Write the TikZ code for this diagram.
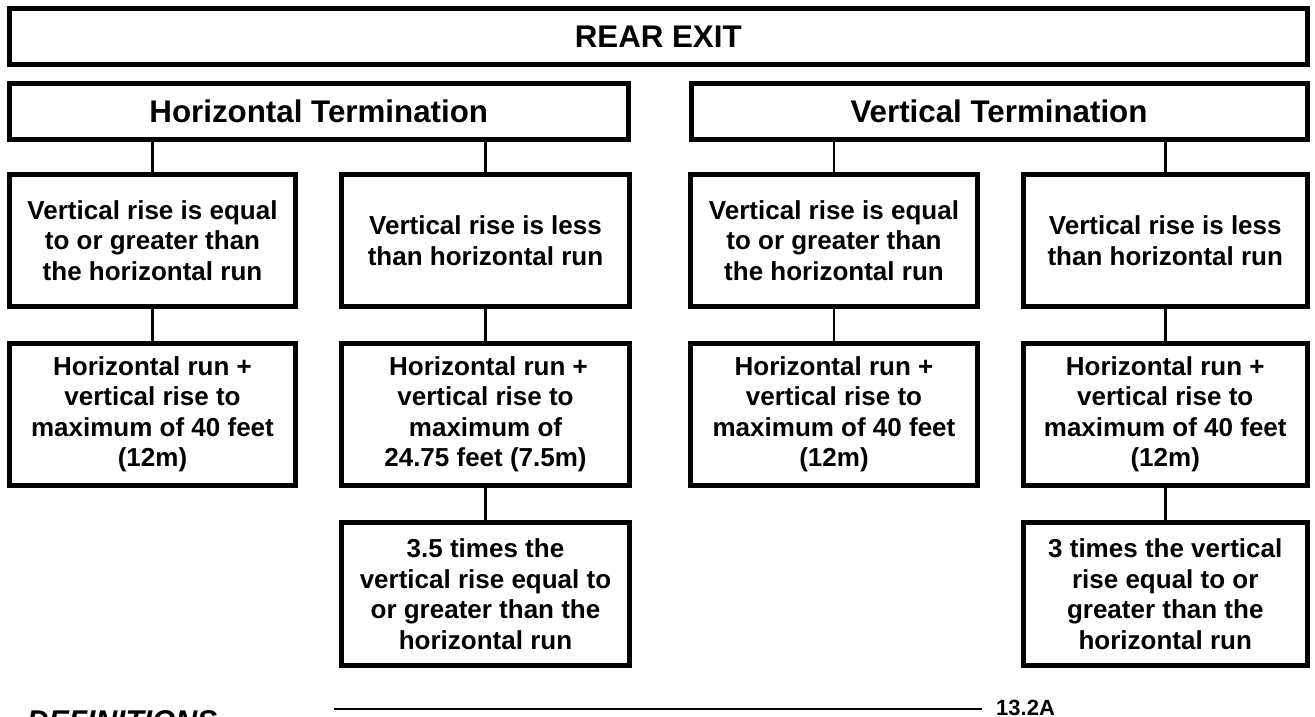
\documentclass[tikz,border=0pt]{standalone}
\usepackage{fontspec}
\setmainfont{Liberation Sans}
\newcommand\boxtxt{\fontsize{26}{30.5}\selectfont\bfseries}
\newcommand\headtxt{\fontsize{31.3}{36}\selectfont\bfseries}
\tikzset{
  panel/.style={draw=black, line width=5pt, inner sep=0pt, outer sep=0pt,
                align=center, font=\boxtxt},
  header/.style={panel, font=\headtxt, minimum height=56pt},
  link/.style={draw=black, line width=2.5pt},
}
\begin{document}
\begin{tikzpicture}[x=1pt, y=-1pt]
\clip (0,0) rectangle (1315,717);
\fill[white] (0,0) rectangle (1315,717);

% headings
\node[header, minimum width=1297.5pt] (rear) at (658.25,36.5) {REAR EXIT};
\node[header, minimum width=618.5pt] (horiz) at (318.75,111.5) {Horizontal Termination};
\node[header, minimum width=616pt] (vert) at (999,111.5) {Vertical Termination};

% conditions
\node[panel, minimum width=286pt, minimum height=132pt] (hA) at (152.5,240.5)
  {Vertical rise is equal\\to or greater than\\the horizontal run};
\node[panel, minimum width=288pt, minimum height=132pt] (hB) at (485.5,240.5)
  {Vertical rise is less\\than horizontal run};
\node[panel, minimum width=287pt, minimum height=132pt] (vA) at (834,240.5)
  {Vertical rise is equal\\to or greater than\\the horizontal run};
\node[panel, minimum width=283.5pt, minimum height=132pt] (vB) at (1165.25,240.5)
  {Vertical rise is less\\than horizontal run};

% limits
\node[panel, minimum width=286pt, minimum height=142pt] (hA2) at (152.5,414.5)
  {Horizontal run +\\vertical rise to\\maximum of 40 feet\\(12m)};
\node[panel, minimum width=288pt, minimum height=142pt] (hB2) at (485.5,414.5)
  {\hspace*{6pt}Horizontal run +\\vertical rise to\\maximum of\\24.75 feet (7.5m)};
\node[panel, minimum width=287pt, minimum height=142pt] (vA2) at (834,414.5)
  {Horizontal run +\\vertical rise to\\maximum of 40 feet\\(12m)};
\node[panel, minimum width=283.5pt, minimum height=142pt] (vB2) at (1165.25,414.5)
  {Horizontal run +\\vertical rise to\\maximum of 40 feet\\(12m)};

% extra rules
\node[panel, minimum width=288pt, minimum height=143pt] (hB3) at (485.5,594)
  {3.5 times the\\vertical rise equal to\\or greater than the\\horizontal run};
\node[panel, minimum width=283.5pt, minimum height=143pt] (vB3) at (1165.25,594)
  {3 times the vertical\\rise equal to or\\greater than the\\horizontal run};

% connectors
\draw[link] (hA.north) -- (hA.north |- horiz.south);
\draw[link] (hB.north) -- (hB.north |- horiz.south);
\draw[link] (vA.north) -- (vA.north |- vert.south);
\draw[link] (vB.north) -- (vB.north |- vert.south);
\draw[link] (hA.south) -- (hA2.north);
\draw[link] (hB.south) -- (hB2.north);
\draw[link] (vA.south) -- (vA2.north);
\draw[link] (vB.south) -- (vB2.north);
\draw[link] (hB2.south) -- (hB3.north);
\draw[link] (vB2.south) -- (vB3.north);

% footer
\node[anchor=base west, inner sep=0pt, font=\fontsize{22}{24}\selectfont\bfseries] (fig) at (996,715) {13.2A};
\coordinate (ruleL) at (334,709);
\coordinate (ruleR) at (982,709);
\draw[line width=2.5pt] (ruleL) -- (ruleR);
\node[anchor=north west, inner sep=0pt, font=\fontsize{30}{34}\selectfont\bfseries\itshape] (defs) at (27,710) {DEFINITIONS};
\end{tikzpicture}
\end{document}
